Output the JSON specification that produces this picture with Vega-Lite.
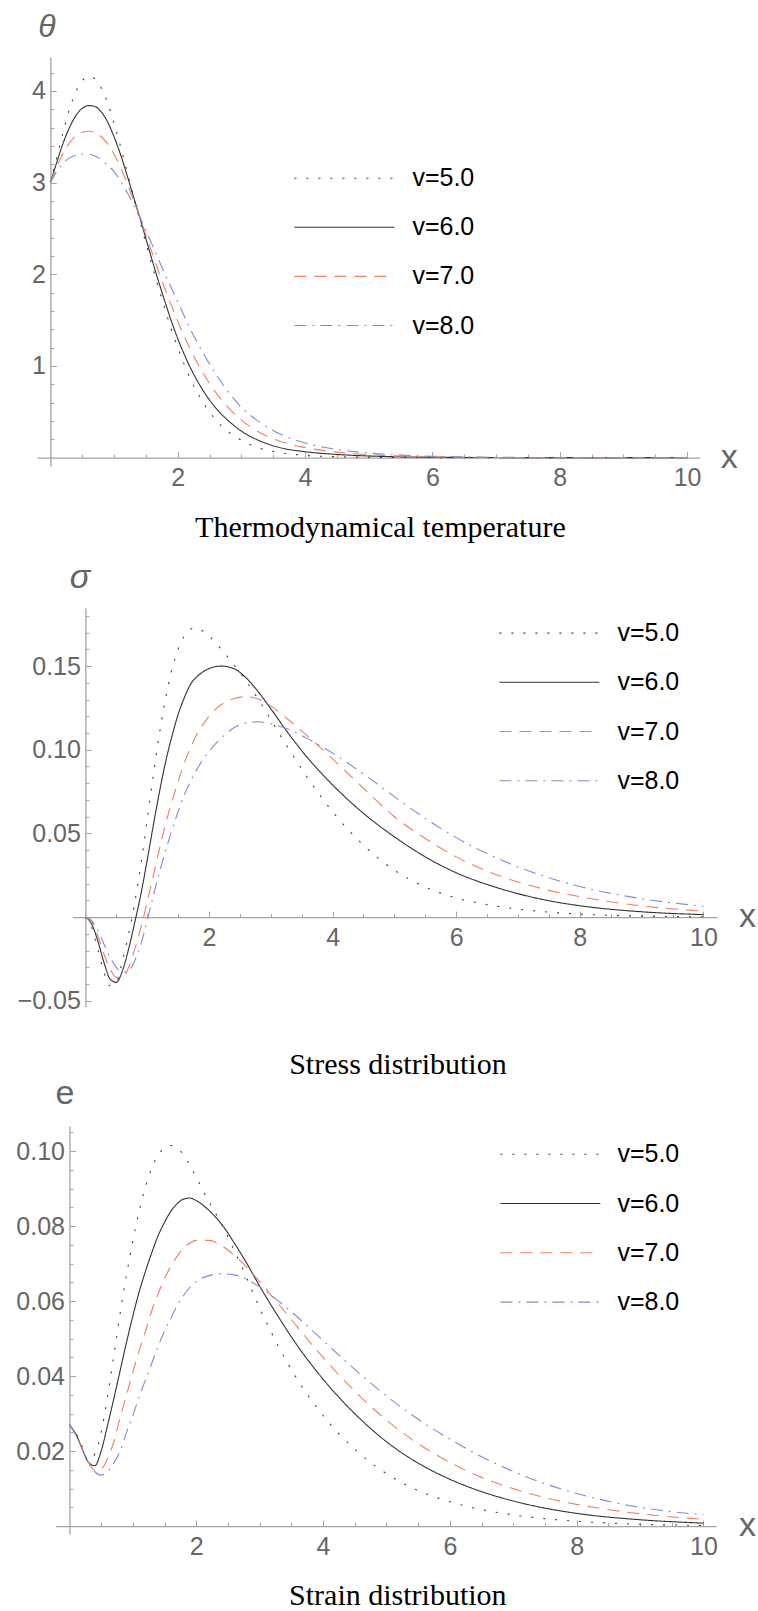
{
  "$schema": "https://vega.github.io/schema/vega-lite/v6.json",
  "background": "white",
  "padding": {"left": 0, "top": 10, "right": 0, "bottom": 0},
  "spacing": -5,
  "resolve": {"scale": {"color": "independent", "strokeDash": "independent"}},
  "datasets": {
    "theta": [
      {"x":0,"v5":3.0,"v6":3.0,"v7":3.0,"v8":3.0},
      {"x":0.1,"v5":3.27,"v6":3.22,"v7":3.17,"v8":3.12},
      {"x":0.2,"v5":3.55,"v6":3.43,"v7":3.32,"v8":3.21},
      {"x":0.3,"v5":3.80,"v6":3.60,"v7":3.43,"v8":3.27},
      {"x":0.4,"v5":3.99,"v6":3.73,"v7":3.51,"v8":3.30},
      {"x":0.5,"v5":4.11,"v6":3.81,"v7":3.55,"v8":3.31},
      {"x":0.6,"v5":4.16,"v6":3.84,"v7":3.56,"v8":3.31},
      {"x":0.7,"v5":4.13,"v6":3.83,"v7":3.55,"v8":3.29},
      {"x":0.8,"v5":4.03,"v6":3.77,"v7":3.50,"v8":3.25},
      {"x":0.9,"v5":3.87,"v6":3.66,"v7":3.42,"v8":3.19},
      {"x":1.0,"v5":3.65,"v6":3.50,"v7":3.31,"v8":3.12},
      {"x":1.1,"v5":3.40,"v6":3.31,"v7":3.17,"v8":3.02},
      {"x":1.2,"v5":3.13,"v6":3.09,"v7":3.00,"v8":2.90},
      {"x":1.3,"v5":2.86,"v6":2.86,"v7":2.82,"v8":2.77},
      {"x":1.4,"v5":2.60,"v6":2.63,"v7":2.63,"v8":2.63},
      {"x":1.5,"v5":2.34,"v6":2.39,"v7":2.43,"v8":2.48},
      {"x":1.6,"v5":2.09,"v6":2.15,"v7":2.23,"v8":2.32},
      {"x":1.7,"v5":1.85,"v6":1.92,"v7":2.03,"v8":2.16},
      {"x":1.8,"v5":1.62,"v6":1.70,"v7":1.84,"v8":2.00},
      {"x":1.9,"v5":1.40,"v6":1.49,"v7":1.66,"v8":1.85},
      {"x":2.0,"v5":1.20,"v6":1.30,"v7":1.49,"v8":1.70},
      {"x":2.2,"v5":0.86,"v6":0.98,"v7":1.18,"v8":1.40},
      {"x":2.4,"v5":0.60,"v6":0.73,"v7":0.92,"v8":1.14},
      {"x":2.6,"v5":0.41,"v6":0.54,"v7":0.71,"v8":0.91},
      {"x":2.8,"v5":0.28,"v6":0.40,"v7":0.54,"v8":0.71},
      {"x":3.0,"v5":0.19,"v6":0.29,"v7":0.41,"v8":0.55},
      {"x":3.3,"v5":0.10,"v6":0.18,"v7":0.27,"v8":0.38},
      {"x":3.6,"v5":0.055,"v6":0.11,"v7":0.18,"v8":0.26},
      {"x":4.0,"v5":0.025,"v6":0.065,"v7":0.11,"v8":0.16},
      {"x":4.5,"v5":0.01,"v6":0.035,"v7":0.06,"v8":0.09},
      {"x":5.0,"v5":0.004,"v6":0.018,"v7":0.032,"v8":0.05},
      {"x":5.5,"v5":0.002,"v6":0.009,"v7":0.017,"v8":0.028},
      {"x":6.0,"v5":0.001,"v6":0.005,"v7":0.009,"v8":0.015},
      {"x":6.5,"v5":0.0,"v6":0.002,"v7":0.005,"v8":0.008},
      {"x":7.0,"v5":0.0,"v6":0.001,"v7":0.002,"v8":0.004},
      {"x":7.5,"v5":0.0,"v6":0.0,"v7":0.001,"v8":0.002},
      {"x":8.0,"v5":0.0,"v6":0.0,"v7":0.0,"v8":0.001},
      {"x":9.0,"v5":0.0,"v6":0.0,"v7":0.0,"v8":0.0},
      {"x":10.0,"v5":0.0,"v6":0.0,"v7":0.0,"v8":0.0}
    ],
    "sigma": [
      {"x":0,"v5":0,"v6":0,"v7":0,"v8":0},
      {"x":0.1,"v5":-0.006,"v6":-0.004,"v7":-0.003,"v8":-0.002},
      {"x":0.2,"v5":-0.019,"v6":-0.014,"v7":-0.011,"v8":-0.008},
      {"x":0.3,"v5":-0.033,"v6":-0.027,"v7":-0.022,"v8":-0.016},
      {"x":0.4,"v5":-0.041,"v6":-0.037,"v7":-0.031,"v8":-0.024},
      {"x":0.5,"v5":-0.039,"v6":-0.039,"v7":-0.036,"v8":-0.030},
      {"x":0.6,"v5":-0.026,"v6":-0.032,"v7":-0.036,"v8":-0.033},
      {"x":0.7,"v5":-0.010,"v6":-0.019,"v7":-0.030,"v8":-0.032},
      {"x":0.8,"v5":0.009,"v6":-0.003,"v7":-0.019,"v8":-0.026},
      {"x":0.9,"v5":0.032,"v6":0.014,"v7":-0.006,"v8":-0.016},
      {"x":1.0,"v5":0.058,"v6":0.034,"v7":0.009,"v8":-0.002},
      {"x":1.1,"v5":0.085,"v6":0.055,"v7":0.025,"v8":0.013},
      {"x":1.2,"v5":0.110,"v6":0.075,"v7":0.041,"v8":0.027},
      {"x":1.3,"v5":0.131,"v6":0.093,"v7":0.056,"v8":0.040},
      {"x":1.4,"v5":0.148,"v6":0.108,"v7":0.069,"v8":0.052},
      {"x":1.5,"v5":0.160,"v6":0.121,"v7":0.081,"v8":0.063},
      {"x":1.6,"v5":0.168,"v6":0.131,"v7":0.092,"v8":0.073},
      {"x":1.7,"v5":0.172,"v6":0.139,"v7":0.101,"v8":0.081},
      {"x":1.8,"v5":0.1728,"v6":0.1435,"v7":0.109,"v8":0.088},
      {"x":1.9,"v5":0.171,"v6":0.1465,"v7":0.115,"v8":0.094},
      {"x":2.0,"v5":0.168,"v6":0.1485,"v7":0.120,"v8":0.099},
      {"x":2.2,"v5":0.160,"v6":0.150,"v7":0.127,"v8":0.107},
      {"x":2.4,"v5":0.151,"v6":0.1485,"v7":0.1305,"v8":0.113},
      {"x":2.6,"v5":0.141,"v6":0.143,"v7":0.1317,"v8":0.116},
      {"x":2.8,"v5":0.130,"v6":0.1345,"v7":0.1303,"v8":0.1167},
      {"x":3.0,"v5":0.118,"v6":0.1245,"v7":0.1262,"v8":0.1155},
      {"x":3.3,"v5":0.100,"v6":0.109,"v7":0.1175,"v8":0.112},
      {"x":3.6,"v5":0.083,"v6":0.095,"v7":0.108,"v8":0.1065},
      {"x":4.0,"v5":0.063,"v6":0.079,"v7":0.0945,"v8":0.098},
      {"x":4.5,"v5":0.043,"v6":0.062,"v7":0.077,"v8":0.0855},
      {"x":5.0,"v5":0.028,"v6":0.048,"v7":0.060,"v8":0.072},
      {"x":5.5,"v5":0.018,"v6":0.036,"v7":0.047,"v8":0.059},
      {"x":6.0,"v5":0.0115,"v6":0.0265,"v7":0.036,"v8":0.0475},
      {"x":6.5,"v5":0.0075,"v6":0.0195,"v7":0.0275,"v8":0.038},
      {"x":7.0,"v5":0.0048,"v6":0.014,"v7":0.021,"v8":0.030},
      {"x":7.5,"v5":0.003,"v6":0.0098,"v7":0.016,"v8":0.0235},
      {"x":8.0,"v5":0.0018,"v6":0.0068,"v7":0.0122,"v8":0.0183},
      {"x":9.0,"v5":0.0006,"v6":0.0032,"v7":0.0067,"v8":0.011},
      {"x":10.0,"v5":0.0002,"v6":0.0015,"v7":0.0036,"v8":0.0065}
    ],
    "strain": [
      {"x":0,"v5":0.027,"v6":0.027,"v7":0.027,"v8":0.027},
      {"x":0.1,"v5":0.0248,"v6":0.0246,"v7":0.0244,"v8":0.0243},
      {"x":0.2,"v5":0.0212,"v6":0.0207,"v7":0.0205,"v8":0.0205},
      {"x":0.3,"v5":0.0176,"v6":0.0170,"v7":0.0170,"v8":0.0168},
      {"x":0.4,"v5":0.0192,"v6":0.0161,"v7":0.0150,"v8":0.0145},
      {"x":0.5,"v5":0.0250,"v6":0.0200,"v7":0.0152,"v8":0.0136},
      {"x":0.6,"v5":0.0345,"v6":0.0268,"v7":0.0180,"v8":0.0145},
      {"x":0.7,"v5":0.0455,"v6":0.0340,"v7":0.0225,"v8":0.0168},
      {"x":0.8,"v5":0.0568,"v6":0.0415,"v7":0.0290,"v8":0.0200},
      {"x":0.9,"v5":0.0670,"v6":0.0490,"v7":0.0350,"v8":0.0250},
      {"x":1.0,"v5":0.0760,"v6":0.0560,"v7":0.0410,"v8":0.0295},
      {"x":1.1,"v5":0.0840,"v6":0.0625,"v7":0.0468,"v8":0.0345},
      {"x":1.2,"v5":0.0905,"v6":0.0680,"v7":0.0520,"v8":0.0390},
      {"x":1.3,"v5":0.0955,"v6":0.0730,"v7":0.0575,"v8":0.0435},
      {"x":1.4,"v5":0.0990,"v6":0.0775,"v7":0.0620,"v8":0.0480},
      {"x":1.5,"v5":0.1008,"v6":0.0810,"v7":0.0660,"v8":0.0520},
      {"x":1.6,"v5":0.1015,"v6":0.0840,"v7":0.0693,"v8":0.0555},
      {"x":1.7,"v5":0.1008,"v6":0.0860,"v7":0.0720,"v8":0.0588},
      {"x":1.8,"v5":0.0990,"v6":0.0872,"v7":0.0742,"v8":0.0615},
      {"x":1.9,"v5":0.0962,"v6":0.0875,"v7":0.0755,"v8":0.0637},
      {"x":2.0,"v5":0.0930,"v6":0.0868,"v7":0.0762,"v8":0.0652},
      {"x":2.2,"v5":0.0865,"v6":0.0842,"v7":0.0762,"v8":0.0668},
      {"x":2.4,"v5":0.0805,"v6":0.0805,"v7":0.0748,"v8":0.0673},
      {"x":2.6,"v5":0.0735,"v6":0.0755,"v7":0.0722,"v8":0.0670},
      {"x":2.8,"v5":0.0660,"v6":0.0700,"v7":0.0690,"v8":0.0658},
      {"x":3.0,"v5":0.0582,"v6":0.0640,"v7":0.0652,"v8":0.0638},
      {"x":3.3,"v5":0.0478,"v6":0.0557,"v7":0.0592,"v8":0.0600},
      {"x":3.6,"v5":0.0390,"v6":0.0480,"v7":0.0530,"v8":0.0557},
      {"x":4.0,"v5":0.0295,"v6":0.0392,"v7":0.0450,"v8":0.0495},
      {"x":4.5,"v5":0.0205,"v6":0.0300,"v7":0.0360,"v8":0.0418},
      {"x":5.0,"v5":0.0140,"v6":0.0225,"v7":0.0283,"v8":0.0347},
      {"x":5.5,"v5":0.0095,"v6":0.0168,"v7":0.0220,"v8":0.0285},
      {"x":6.0,"v5":0.0065,"v6":0.0125,"v7":0.0170,"v8":0.0232},
      {"x":6.5,"v5":0.0044,"v6":0.0092,"v7":0.0130,"v8":0.0185},
      {"x":7.0,"v5":0.0030,"v6":0.0067,"v7":0.0100,"v8":0.0146},
      {"x":7.5,"v5":0.0020,"v6":0.0048,"v7":0.0076,"v8":0.0113},
      {"x":8.0,"v5":0.0013,"v6":0.0034,"v7":0.0058,"v8":0.0087},
      {"x":9.0,"v5":0.0005,"v6":0.0017,"v7":0.0033,"v8":0.0050},
      {"x":10.0,"v5":0.0002,"v6":0.0008,"v7":0.0018,"v8":0.0030}
    ]
  },
  "vconcat": [
    {
      "width": 662.8,
      "height": 408.9,
      "data": {"name": "theta"},
      "transform": [{"fold": ["v5", "v6", "v7", "v8"], "as": ["v", "y"]}],
      "mark": {"type": "line", "strokeWidth": 1.1, "interpolate": "monotone"},
      "title": {"text": "Thermodynamical temperature", "orient": "bottom", "frame": "group", "anchor": "middle", "baseline": "top", "offset": -47, "dx": 12, "font": "Liberation Serif", "fontSize": 30, "fontWeight": "normal", "color": "#000000"},
      "encoding": {
        "x": {"field": "x", "type": "quantitative", "scale": {"domain": [-0.21, 10.2], "range": [0, 662.8], "nice": false, "zero": false},
          "axis": {"values": [0.5,1,1.5,2,2.5,3,3.5,4,4.5,5,5.5,6,6.5,7,7.5,8,8.5,9,9.5,10], "offset": -8.25,
            "labelExpr": "datum.value % 2 === 0 ? '' + datum.value : ''",
            "tickSize": {"condition": {"test": "datum.value % 2 === 0", "value": -6}, "value": -3.5},
            "labelPadding": 14, "title": "x", "titleX": 691.7, "titleY": 0, "titleFontSize": 34,
            "minExtent": 102.3, "maxExtent": 102.3}},
        "y": {"field": "y", "type": "quantitative", "scale": {"domain": [-0.09, 4.37], "nice": false, "zero": false},
          "axis": {"values": [0.2,0.4,0.6,0.8,1,1.2,1.4,1.6,1.8,2,2.2,2.4,2.6,2.8,3,3.2,3.4,3.6,3.8,4,4.2], "offset": -13.37,
            "labelExpr": "abs(datum.value - round(datum.value)) < 1e-6 ? '' + round(datum.value) : ''",
            "tickSize": {"condition": {"test": "abs(datum.value - round(datum.value)) < 1e-6", "value": -6}, "value": -3.5},
            "labelPadding": 11, "title": "θ", "titleX": -4, "titleY": -31, "titleFontSize": 32, "titleFontStyle": "italic",
            "minExtent": 50, "maxExtent": 50}},
        "color": {"field": "v", "type": "nominal", "scale": {"domain": ["v5", "v6", "v7", "v8"], "range": ["#3a3a3a", "#333333", "#f07e62", "#7f8bdb"]},
          "legend": {"orient": "none", "legendX": 256.4, "legendY": 108.7, "title": null, "symbolType": "stroke", "symbolSize": 10000, "symbolStrokeWidth": 1.1, "clipHeight": 25, "rowPadding": 23.1, "labelFont": "Liberation Sans", "labelFontSize": 25, "labelColor": "#000000", "labelOffset": 17, "padding": 0, "labelExpr": "'v=' + slice(datum.label, 1) + '.0'"}},
        "strokeDash": {"field": "v", "type": "nominal", "scale": {"domain": ["v5", "v6", "v7", "v8"], "range": [[2, 10], [1, 0], [12, 8], [12, 6, 2, 6]]},
          "legend": {"orient": "none", "legendX": 256.4, "legendY": 108.7, "title": null, "symbolType": "stroke", "symbolSize": 10000, "symbolStrokeWidth": 1.1, "clipHeight": 25, "rowPadding": 23.1, "labelFont": "Liberation Sans", "labelFontSize": 25, "labelColor": "#000000", "labelOffset": 17, "padding": 0, "labelExpr": "'v=' + slice(datum.label, 1) + '.0'"}}
      }
    },
    {
      "width": 680,
      "height": 398.5,
      "data": {"name": "sigma"},
      "transform": [{"fold": ["v5", "v6", "v7", "v8"], "as": ["v", "y"]}],
      "mark": {"type": "line", "strokeWidth": 1.1, "interpolate": "monotone"},
      "title": {"text": "Stress distribution", "orient": "bottom", "frame": "group", "anchor": "middle", "baseline": "top", "offset": 23, "dx": 20.9, "font": "Liberation Serif", "fontSize": 30, "fontWeight": "normal", "color": "#000000"},
      "encoding": {
        "x": {"field": "x", "type": "quantitative", "scale": {"domain": [-0.21, 10.22], "range": [35.4, 680], "nice": false, "zero": false},
          "axis": {"values": [0.5,1,1.5,2,2.5,3,3.5,4,4.5,5,5.5,6,6.5,7,7.5,8,8.5,9,9.5,10], "offset": -89.4,
            "labelExpr": "datum.value % 2 === 0 ? '' + datum.value : ''",
            "tickSize": {"condition": {"test": "datum.value % 2 === 0", "value": -6}, "value": -3.5},
            "labelPadding": 14, "title": "x", "titleX": 710.1, "titleY": -1, "titleFontSize": 34,
            "minExtent": 110, "maxExtent": 110}},
        "y": {"field": "y", "type": "quantitative", "scale": {"domain": [-0.0534, 0.1847], "nice": false, "zero": false},
          "axis": {"values": [-0.05,-0.04,-0.03,-0.02,-0.01,0.01,0.02,0.03,0.04,0.05,0.06,0.07,0.08,0.09,0.1,0.11,0.12,0.13,0.14,0.15,0.16,0.17,0.18], "offset": -48.4,
            "format": ".2f",
            "labelExpr": "abs(datum.value*20 - round(datum.value*20)) < 1e-6 ? datum.label : ''",
            "tickSize": {"condition": {"test": "abs(datum.value*20 - round(datum.value*20)) < 1e-6", "value": -6}, "value": -3.5},
            "labelPadding": 11, "title": "σ", "titleX": -6, "titleY": -30.5, "titleFontSize": 34, "titleFontStyle": "italic",
            "minExtent": 85, "maxExtent": 85}},
        "color": {"field": "v", "type": "nominal", "scale": {"domain": ["v5", "v6", "v7", "v8"], "range": ["#3a3a3a", "#333333", "#f07e62", "#7f8bdb"]},
          "legend": {"orient": "none", "legendX": 395.9, "legendY": -52.9, "title": null, "symbolType": "stroke", "symbolSize": 10000, "symbolStrokeWidth": 1.1, "clipHeight": 25, "rowPadding": 23.2, "labelFont": "Liberation Sans", "labelFontSize": 25, "labelColor": "#000000", "labelOffset": 17, "padding": 65.5, "labelExpr": "'v=' + slice(datum.label, 1) + '.0'"}},
        "strokeDash": {"field": "v", "type": "nominal", "scale": {"domain": ["v5", "v6", "v7", "v8"], "range": [[2, 10], [1, 0], [12, 8], [12, 6, 2, 6]]},
          "legend": {"orient": "none", "legendX": 395.9, "legendY": -52.9, "title": null, "symbolType": "stroke", "symbolSize": 10000, "symbolStrokeWidth": 1.1, "clipHeight": 25, "rowPadding": 23.2, "labelFont": "Liberation Sans", "labelFontSize": 25, "labelColor": "#000000", "labelOffset": 17, "padding": 65.5, "labelExpr": "'v=' + slice(datum.label, 1) + '.0'"}}
      }
    },
    {
      "width": 679.1,
      "height": 408,
      "data": {"name": "strain"},
      "transform": [{"fold": ["v5", "v6", "v7", "v8"], "as": ["v", "y"]}],
      "mark": {"type": "line", "strokeWidth": 1.1, "interpolate": "monotone"},
      "title": {"text": "Strain distribution", "orient": "bottom", "frame": "group", "anchor": "middle", "baseline": "top", "offset": 15, "dx": 21.3, "font": "Liberation Serif", "fontSize": 30, "fontWeight": "normal", "color": "#000000"},
      "encoding": {
        "x": {"field": "x", "type": "quantitative", "scale": {"domain": [-0.22, 10.2], "range": [18.5, 679.1], "nice": false, "zero": false},
          "axis": {"values": [0.5,1,1.5,2,2.5,3,3.5,4,4.5,5,5.5,6,6.5,7,7.5,8,8.5,9,9.5,10], "offset": -7.88,
            "labelExpr": "datum.value % 2 === 0 ? '' + datum.value : ''",
            "tickSize": {"condition": {"test": "datum.value % 2 === 0", "value": -6}, "value": -3.5},
            "labelPadding": 14, "title": "x", "titleX": 710.1, "titleY": -1, "titleFontSize": 34,
            "minExtent": 40, "maxExtent": 40}},
        "y": {"field": "y", "type": "quantitative", "scale": {"domain": [-0.0021, 0.1067], "nice": false, "zero": false},
          "axis": {"values": [0.005,0.01,0.015,0.02,0.025,0.03,0.035,0.04,0.045,0.05,0.055,0.06,0.065,0.07,0.075,0.08,0.085,0.09,0.095,0.1,0.105], "offset": -32.45,
            "format": ".2f",
            "labelExpr": "abs(datum.value*50 - round(datum.value*50)) < 1e-6 ? datum.label : ''",
            "tickSize": {"condition": {"test": "abs(datum.value*50 - round(datum.value*50)) < 1e-6", "value": -6}, "value": -3.5},
            "labelPadding": 11, "title": "e", "titleX": -5, "titleY": -32.3, "titleFontSize": 34,
            "minExtent": 69, "maxExtent": 69}},
        "color": {"field": "v", "type": "nominal", "scale": {"domain": ["v5", "v6", "v7", "v8"], "range": ["#3a3a3a", "#333333", "#f07e62", "#7f8bdb"]},
          "legend": {"orient": "none", "legendX": 396.8, "legendY": -49.9, "title": null, "symbolType": "stroke", "symbolSize": 10000, "symbolStrokeWidth": 1.1, "clipHeight": 25, "rowPadding": 23.3, "labelFont": "Liberation Sans", "labelFontSize": 25, "labelColor": "#000000", "labelOffset": 16, "padding": 65.6, "labelExpr": "'v=' + slice(datum.label, 1) + '.0'"}},
        "strokeDash": {"field": "v", "type": "nominal", "scale": {"domain": ["v5", "v6", "v7", "v8"], "range": [[2, 10], [1, 0], [12, 8], [12, 6, 2, 6]]},
          "legend": {"orient": "none", "legendX": 396.8, "legendY": -49.9, "title": null, "symbolType": "stroke", "symbolSize": 10000, "symbolStrokeWidth": 1.1, "clipHeight": 25, "rowPadding": 23.3, "labelFont": "Liberation Sans", "labelFontSize": 25, "labelColor": "#000000", "labelOffset": 16, "padding": 65.6, "labelExpr": "'v=' + slice(datum.label, 1) + '.0'"}}
      }
    }
  ],
  "config": {
    "view": {"stroke": null},
    "axis": {
      "grid": false,
      "domainColor": "#a3a3a3",
      "domainWidth": 1.3,
      "tickColor": "#a3a3a3",
      "tickWidth": 1,
      "labelFont": "Liberation Sans",
      "labelFontSize": 25,
      "labelColor": "#666666",
      "labelOverlap": false,
      "labelFlush": false,
      "titleFont": "Liberation Sans",
      "titleFontWeight": "normal",
      "titleColor": "#666666",
      "titleAngle": 0,
      "titleAlign": "center",
      "titleBaseline": "middle"
    }
  }
}
